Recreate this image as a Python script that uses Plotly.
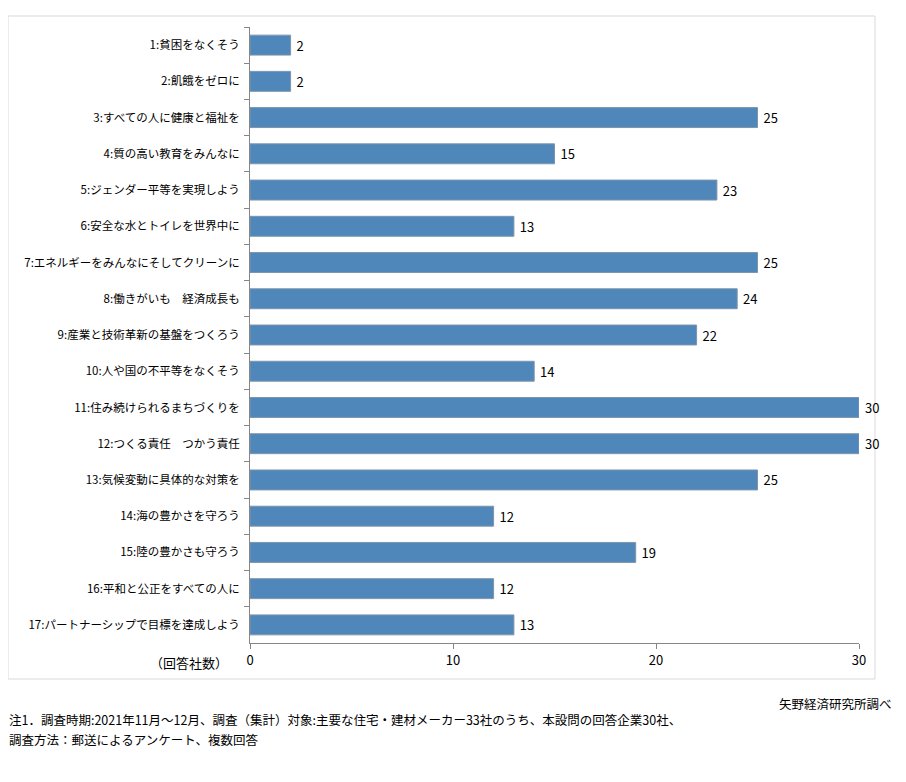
import plotly.graph_objects as go

categories = [
    "1:貧困をなくそう",
    "2:飢餓をゼロに",
    "3:すべての人に健康と福祉を",
    "4:質の高い教育をみんなに",
    "5:ジェンダー平等を実現しよう",
    "6:安全な水とトイレを世界中に",
    "7:エネルギーをみんなにそしてクリーンに",
    "8:働きがいも　経済成長も",
    "9:産業と技術革新の基盤をつくろう",
    "10:人や国の不平等をなくそう",
    "11:住み続けられるまちづくりを",
    "12:つくる責任　つかう責任",
    "13:気候変動に具体的な対策を",
    "14:海の豊かさを守ろう",
    "15:陸の豊かさも守ろう",
    "16:平和と公正をすべての人に",
    "17:パートナーシップで目標を達成しよう",
]
values = [2, 2, 25, 15, 23, 13, 25, 24, 22, 14, 30, 30, 25, 12, 19, 12, 13]
x_ticks = [0, 10, 20, 30]

FONT = "Noto Sans CJK JP"
OFF = 8  # page body margin offset

fig = go.Figure(go.Bar(
    x=values, y=categories, orientation="h",
    marker=dict(color="#4F87BB", line=dict(color="#7D95AB", width=1)),
    text=["\u00a0" + str(v) for v in values], textposition="outside",
    textfont=dict(family=FONT, size=13, color="#000000"),
    cliponaxis=False,
))

W, H = 906 - 2 * OFF, 782 - 2 * OFF
L = 250 - OFF
T = 27 - OFF
R = W - (859 - OFF)
B = H - (643 - OFF)
pw, ph = W - L - R, H - T - B

def px_x(p):
    return (p - OFF - L) / pw

def px_y(p):
    return (H - B - (p - OFF)) / ph

fig.update_layout(
    width=W, height=H,
    margin=dict(l=L, r=R, t=T, b=B, autoexpand=False),
    paper_bgcolor="white", plot_bgcolor="white",
    font=dict(family=FONT, size=12, color="#000000"),
    bargap=0.45,
    showlegend=False,
    xaxis=dict(range=[0, 30], tickvals=x_ticks, showgrid=False, zeroline=False,
               showline=True, linecolor="#868686", linewidth=1,
               ticks="outside", ticklen=5, tickcolor="#868686",
               tickfont=dict(family=FONT, size=13, color="#000000")),
    yaxis=dict(autorange="reversed", showgrid=False, zeroline=False,
               showline=True, linecolor="#868686", linewidth=1,
               ticks="outside", ticklen=5, tickcolor="#868686", tickson="boundaries",
               ticklabelstandoff=7,
               tickfont=dict(family=FONT, size=11.5, color="#000000")),
    shapes=[dict(type="rect", xref="paper", yref="paper",
                 x0=px_x(8), x1=px_x(875), y0=px_y(679), y1=px_y(16),
                 line=dict(color="#D9D9D9", width=1), fillcolor="rgba(0,0,0,0)", layer="below")],
    annotations=[
        dict(text="（回答社数）", xref="paper", yref="paper", x=px_x(230), y=px_y(662),
             xanchor="right", yanchor="middle", showarrow=False,
             font=dict(family=FONT, size=13, color="#000000")),
        dict(text="矢野経済研究所調べ", xref="paper", yref="paper", x=px_x(894), y=px_y(703),
             xanchor="right", yanchor="middle", showarrow=False,
             font=dict(family=FONT, size=12.5, color="#000000")),
        dict(text="注1．調査時期:2021年11月～12月、調査（集計）対象:主要な住宅・建材メーカー33社のうち、本設問の回答企業30社、",
             xref="paper", yref="paper", x=px_x(7), y=px_y(719),
             xanchor="left", yanchor="middle", showarrow=False,
             font=dict(family=FONT, size=12.5, color="#000000")),
        dict(text="調査方法：郵送によるアンケート、複数回答",
             xref="paper", yref="paper", x=px_x(7), y=px_y(739),
             xanchor="left", yanchor="middle", showarrow=False,
             font=dict(family=FONT, size=12.5, color="#000000")),
    ],
)

fig.write_html("out.html")
